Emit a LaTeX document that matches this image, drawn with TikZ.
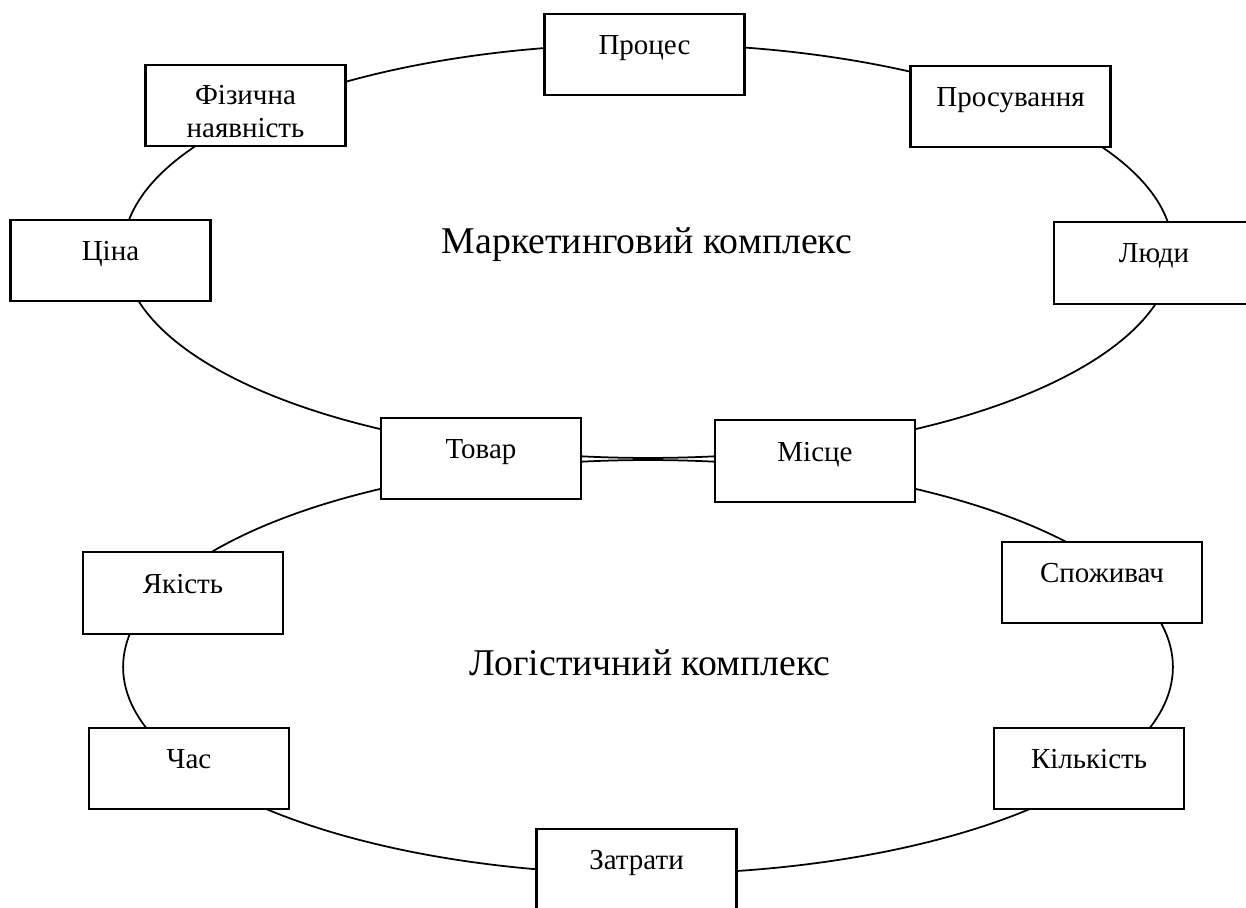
\documentclass[tikz,border=0pt]{standalone}
\usepackage{fontspec}
\setmainfont{Liberation Serif}
\usetikzlibrary{positioning}

\begin{document}
\begin{tikzpicture}[
        x=0.02cm, y=-0.02cm,
        blok/.style={rectangle, draw=black, line width=1.2pt, fill=white,
            minimum width=4cm, minimum height=1.63cm, inner sep=2pt,
            text height=5mm, text depth=5mm, align=center,
            font=\fontsize{16.5}{18.7}\selectfont},
        kolo/.style={draw=black, line width=1pt},
        nazva/.style={font=\fontsize{21.5}{24}\selectfont},
    ]
        \useasboundingbox (0,0) rectangle (1246,908);

        % two complexes
        \draw[kolo] (648,251) ellipse [x radius=10.5cm, y radius=4.14cm];
        \draw[kolo] (648,667) ellipse [x radius=10.5cm, y radius=4.14cm];

        \node[nazva] (mark) at (647,245) {Маркетинговий комплекс};
        \node[nazva] (log) at (650,663) {Логістичний комплекс};

        % marketing mix
        \node[blok] (proc) at (644.5,54.5) {Процес};
        \node[blok, text height={}, text depth={}] (fiz) at (245.5,105.5)
            {\rule{0pt}{18pt}Фізична\\наявність};
        \node[blok] (prosuv) at (1010.5,106.5) {Просування};
        \node[blok] (tsina) at (110.5,260.5) {Ціна};
        \node[blok] (lyudy) at (1154,263) {Люди};
        \node[blok] (tovar) at (481,458.5) {Товар};
        \node[blok] (mistse) at (815,461) {Місце};

        % logistics mix
        \node[blok] (yakist) at (183,593) {Якість};
        \node[blok] (spozhyv) at (1102,582.5) {Споживач};
        \node[blok] (chas) at (189,768.5) {Час};
        \node[blok, minimum width=3.8cm] (kilkist) at (1089,768.5) {Кількість};
        \node[blok] (zatraty) at (636.5,869.5) {Затрати};
    \end{tikzpicture}
\end{document}
